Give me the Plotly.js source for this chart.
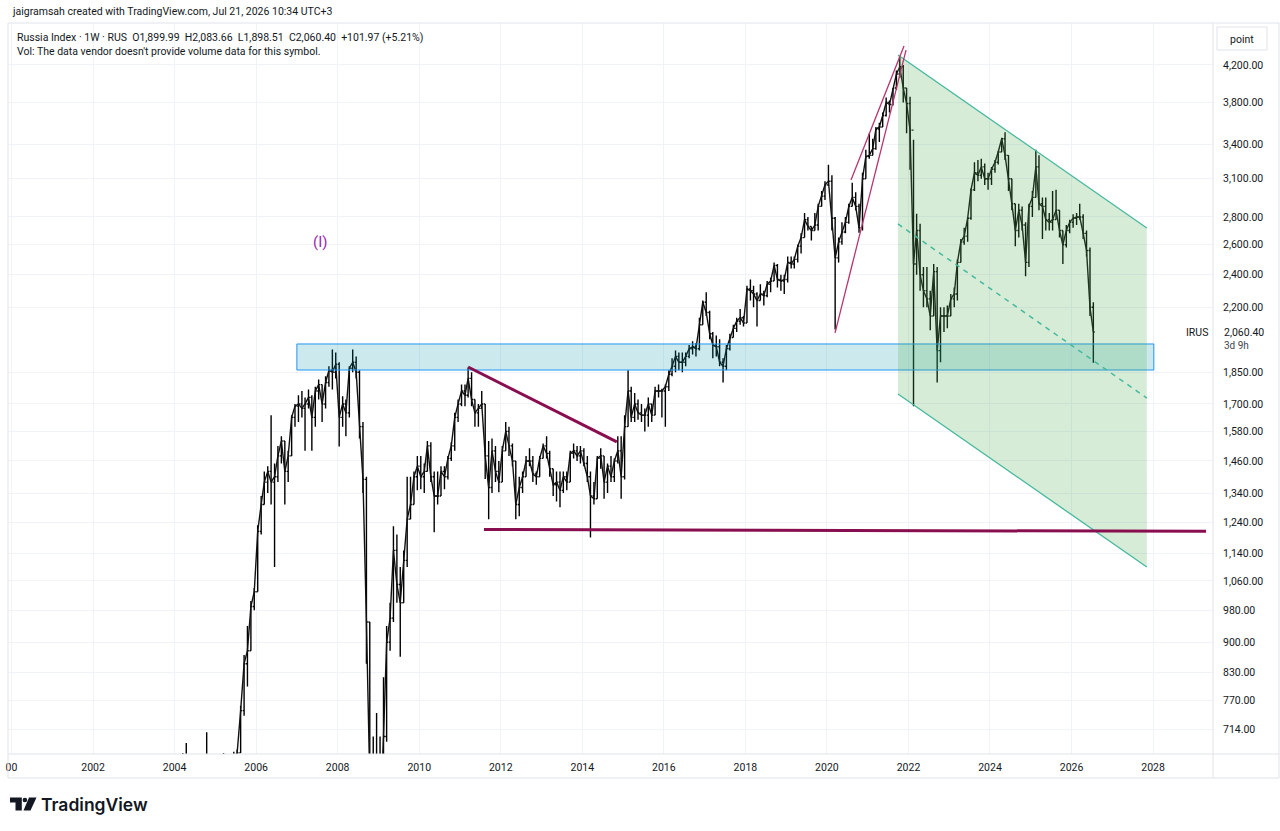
<!DOCTYPE html>
<html>
<head>
<meta charset="utf-8">
<script src="https://cdn.plot.ly/plotly-3.0.1.min.js"></script>
<style>
html,body{margin:0;padding:0;background:#ffffff;}
#chart{width:1280px;height:831px;}
</style>
</head>
<body>
<div id="chart"></div>
<script>
// ---------------- DATA (monthly bars) ----------------
const startYear = 2004;   // first bar: January 2004
const firstOpen = 580;

const highs = [
  640,660,670,688,610,560,560,560,620,708,660,620,            // 2004
  620,660,670,650,640,672,676,760,870,940,1005,1040,          // 2005
  1230,1330,1420,1440,1650,1450,1520,1560,1540,1500,1650,1700,// 2006
  1740,1760,1730,1767,1740,1780,1815,1790,1830,1880,1966,1950,// 2007
  1900,1735,1720,1880,1966,1930,1860,1620,1400,950,700,745,   // 2008
  700,820,940,1000,1227,1200,1100,1150,1400,1400,1420,1480,   // 2009
  1480,1450,1540,1535,1420,1420,1440,1440,1480,1535,1660,1720,// 2010
  1790,1790,1874,1850,1720,1700,1760,1700,1540,1550,1520,1460,// 2011
  1520,1620,1600,1530,1460,1400,1420,1480,1510,1480,1420,1480,// 2012
  1530,1560,1500,1430,1420,1420,1420,1420,1500,1530,1520,1520,// 2013
  1510,1480,1420,1380,1480,1510,1480,1450,1480,1470,1560,1560,// 2014
  1650,1860,1780,1750,1720,1700,1680,1730,1700,1780,1790,1770,// 2015
  1790,1860,1920,1960,1950,1950,1950,1990,2010,2000,2140,2240,// 2016
  2290,2180,2060,2040,2020,1920,1990,2050,2100,2140,2190,2150,// 2017
  2330,2370,2330,2290,2340,2300,2360,2380,2480,2470,2400,2400,// 2018
  2520,2520,2520,2600,2680,2830,2800,2730,2830,2900,3000,3080,// 2019
  3218,3130,2800,2650,2760,2800,2900,3067,2990,2900,3150,3350,// 2020
  3500,3450,3560,3600,3700,3850,3820,3950,4140,4290,4200,3950,// 2021
  3860,3440,2824,2750,2450,2450,2300,2470,2450,2200,2200,2210,// 2022
  2280,2320,2500,2640,2720,2800,3020,3240,3260,3270,3230,3150,// 2023
  3200,3260,3340,3460,3510,3300,3100,2900,2900,2880,2760,2900,// 2024
  3000,3350,3300,2950,2950,2830,3000,3010,2850,2700,2740,2780,// 2025
  2820,2830,2900,2820,2700,2580,2230                          // 2026
];
const lows = [
  570,600,620,590,510,500,480,500,540,590,600,540,
  560,600,620,600,580,610,640,670,740,800,880,980,
  1030,1200,1300,1340,1300,1100,1380,1450,1300,1380,1480,1600,
  1620,1640,1500,1680,1500,1600,1720,1620,1680,1780,1767,1820,
  1518,1600,1560,1640,1850,1820,1550,1340,850,560,520,560,
  520,560,690,880,950,1000,866,1000,1100,1250,1300,1350,
  1354,1340,1420,1380,1207,1300,1330,1354,1390,1460,1500,1620,
  1690,1690,1730,1690,1600,1600,1680,1391,1250,1340,1380,1343,
  1380,1500,1480,1440,1250,1260,1340,1400,1440,1380,1370,1400,
  1470,1470,1400,1330,1310,1290,1340,1350,1380,1470,1460,1450,
  1440,1380,1190,1300,1320,1430,1320,1340,1380,1380,1450,1320,
  1390,1600,1620,1620,1630,1620,1580,1600,1620,1650,1730,1640,
  1600,1760,1830,1850,1860,1850,1880,1920,1940,1930,1960,2100,
  2150,2020,1920,1930,1880,1800,1860,1960,2030,2060,2100,2090,
  2110,2240,2200,2090,2240,2210,2260,2290,2360,2320,2300,2280,
  2350,2440,2440,2480,2540,2650,2700,2630,2700,2700,2880,2930,
  3040,2700,2074,2480,2600,2680,2750,2880,2850,2685,2700,3100,
  3270,3300,3350,3420,3560,3660,3700,3770,3930,4060,3800,3500,
  3175,1690,2400,2300,2200,2200,2070,2150,1800,1900,2060,2080,
  2150,2200,2240,2480,2600,2620,2780,3000,3080,3100,3050,3010,
  3050,3150,3220,3330,3260,3000,2850,2590,2650,2700,2390,2450,
  2800,2950,2850,2640,2700,2700,2700,2780,2650,2470,2580,2680,
  2720,2740,2780,2640,2520,2150,1898
];
const closes = [
  620,640,650,600,540,530,520,550,610,640,620,570,
  600,650,640,620,620,660,670,750,850,880,990,1030,
  1210,1300,1380,1420,1380,1400,1480,1540,1420,1480,1640,1690,
  1700,1680,1700,1730,1640,1760,1790,1700,1800,1860,1850,1890,
  1640,1700,1660,1870,1900,1850,1600,1390,950,620,600,620,
  560,700,900,960,1150,1050,1000,1120,1250,1300,1400,1440,
  1400,1420,1520,1400,1330,1330,1420,1400,1470,1520,1640,1700,
  1760,1740,1820,1720,1660,1680,1700,1480,1360,1500,1420,1380,
  1500,1580,1520,1460,1300,1360,1400,1460,1460,1410,1400,1470,
  1520,1490,1430,1370,1380,1350,1400,1380,1490,1500,1480,1500,
  1450,1400,1330,1320,1470,1480,1380,1440,1400,1460,1500,1400,
  1600,1760,1640,1700,1660,1650,1650,1700,1650,1760,1760,1760,
  1780,1840,1880,1930,1900,1900,1930,1970,1980,1970,2100,2230,
  2170,2050,1990,1980,1900,1880,1970,2030,2080,2120,2140,2110,
  2310,2300,2280,2240,2280,2270,2340,2360,2460,2370,2360,2370,
  2480,2470,2500,2590,2650,2780,2730,2700,2740,2880,2960,3050,
  3080,2790,2510,2620,2690,2760,2880,2950,2880,2720,3100,3290,
  3300,3360,3540,3560,3670,3800,3780,3950,4100,4180,3950,3790,
  3530,2470,2700,2400,2300,2250,2150,2420,1960,2150,2150,2150,
  2250,2280,2480,2620,2660,2790,3010,3150,3130,3200,3100,3100,
  3180,3240,3330,3450,3300,3100,2900,2700,2850,2740,2480,2880,
  2950,3200,2900,2880,2780,2760,2780,2850,2700,2600,2700,2760,
  2790,2800,2800,2680,2560,2200,2060
];

const priceTicks = [4200,3800,3400,3100,2800,2600,2400,2200,1850,1700,1580,1460,1340,1240,1140,1060,980,900,830,770,714];
const yearTicks = [2000,2002,2004,2006,2008,2010,2012,2014,2016,2018,2020,2022,2024,2026,2028];
const yearLabels = ['00','2002','2004','2006','2008','2010','2012','2014','2016','2018','2020','2022','2024','2026','2028'];

const lastPrice = 2060.40;

// Drawings (date, price)
const zoneDates = ['2007-01-01','2028-01-08'];
const zonePrices = [1861, 1995];
const supportDates = ['2011-08-04','2029-04-20'];
const supportPrices = [1216, 1210];
const fallingDates = ['2011-03-15','2014-11-06'];
const fallingPrices = [1876, 1536];
const wedgeLowDates = ['2020-03-14','2021-12-10'];
const wedgeLowPrices = [2055, 4371];
const wedgeHighDates = ['2020-08-04','2021-11-22'];
const wedgeHighPrices = [3090, 4419];
const channelDates = ['2021-09-29','2027-11-06'];
const channelTop = [4313, 2719];
const channelMid = [2748, 1727];
const channelBottom = [1746, 1100];

// ---------------- BUILD ----------------
const dates = closes.map((_, i) => {
  const y = startYear + Math.floor(i / 12);
  const m = (i % 12) + 1;
  return y + '-' + String(m).padStart(2, '0') + '-15';
});
const opens = closes.map((_, i) => i === 0 ? firstOpen : closes[i - 1]);

const fmt = v => v.toLocaleString('en-US', {minimumFractionDigits: 2, maximumFractionDigits: 2});

// pixel -> paper helpers for frame decorations
const L = 8, R = 1213, T = 23, B = 754;
const px = X => (X - L) / (R - L);
const py = Y => (B - Y) / (B - T);

const FONT = 'Roboto, "Liberation Sans", sans-serif';
const TXT = '#131722';

const traces = [
  { // close path, gives the dense ribbon look of the weekly bars
    type: 'scatter', mode: 'lines', x: dates, y: closes,
    line: {color: '#111111', width: 1.4}, hoverinfo: 'skip', showlegend: false
  },
  {
    type: 'ohlc', x: dates, open: opens, high: highs, low: lows, close: closes,
    increasing: {line: {color: '#000000', width: 1.4}},
    decreasing: {line: {color: '#000000', width: 1.4}},
    tickwidth: 0.45, hoverinfo: 'skip', showlegend: false
  },
  { // blue zone
    type: 'scatter', mode: 'lines', hoverinfo: 'skip', showlegend: false,
    x: [zoneDates[0], zoneDates[1], zoneDates[1], zoneDates[0], zoneDates[0]],
    y: [zonePrices[0], zonePrices[0], zonePrices[1], zonePrices[1], zonePrices[0]],
    fill: 'toself', fillcolor: 'rgba(0,151,167,0.2)',
    line: {color: '#2196f3', width: 1}
  },
  { // channel fill
    type: 'scatter', mode: 'lines', hoverinfo: 'skip', showlegend: false,
    x: [channelDates[0], channelDates[1], channelDates[1], channelDates[0], channelDates[0]],
    y: [channelTop[0], channelTop[1], channelBottom[1], channelBottom[0], channelTop[0]],
    fill: 'toself', fillcolor: 'rgba(76,175,80,0.23)',
    line: {width: 0, color: 'rgba(0,0,0,0)'}
  },
  {type: 'scatter', mode: 'lines', hoverinfo: 'skip', showlegend: false,
   x: channelDates, y: channelTop, line: {color: '#45b89d', width: 1.3}},
  {type: 'scatter', mode: 'lines', hoverinfo: 'skip', showlegend: false,
   x: channelDates, y: channelBottom, line: {color: '#45b89d', width: 1.3}},
  {type: 'scatter', mode: 'lines', hoverinfo: 'skip', showlegend: false,
   x: channelDates, y: channelMid, line: {color: '#45b89d', width: 1.5, dash: '5px,5px'}},
  {type: 'scatter', mode: 'lines', hoverinfo: 'skip', showlegend: false,
   x: supportDates, y: supportPrices, line: {color: '#880e4f', width: 3}},
  {type: 'scatter', mode: 'lines', hoverinfo: 'skip', showlegend: false,
   x: fallingDates, y: fallingPrices, line: {color: '#880e4f', width: 3}},
  {type: 'scatter', mode: 'lines', hoverinfo: 'skip', showlegend: false,
   x: wedgeLowDates, y: wedgeLowPrices, line: {color: '#b8346e', width: 1.3}},
  {type: 'scatter', mode: 'lines', hoverinfo: 'skip', showlegend: false,
   x: wedgeHighDates, y: wedgeHighPrices, line: {color: '#b8346e', width: 1.3}}
];

const border = '#e0e3eb';
const shapes = [
  {type: 'rect', xref: 'paper', yref: 'paper', x0: px(8), x1: px(1279), y0: py(778), y1: py(23),
   line: {color: border, width: 1}, fillcolor: 'rgba(0,0,0,0)', layer: 'above'},
  {type: 'line', xref: 'paper', yref: 'paper', x0: px(8), x1: px(1279), y0: py(754), y1: py(754),
   line: {color: border, width: 1}},
  {type: 'line', xref: 'paper', yref: 'paper', x0: px(1213), x1: px(1213), y0: py(778), y1: py(23),
   line: {color: border, width: 1}},
  // "point" box
  {type: 'rect', xref: 'paper', yref: 'paper', x0: px(1217), x1: px(1267), y0: py(50), y1: py(27),
   line: {color: border, width: 1}, fillcolor: '#ffffff'},
  // TradingView logo
  {type: 'path', xref: 'paper', yref: 'paper', fillcolor: TXT, line: {width: 0},
   path: 'M' + px(10) + ',' + py(797.5) + ' L' + px(21.8) + ',' + py(797.5) + ' L' + px(21.8) + ',' + py(810.5) +
         ' L' + px(15.5) + ',' + py(810.5) + ' L' + px(15.5) + ',' + py(802.5) + ' L' + px(10) + ',' + py(802.5) + ' Z'},
  {type: 'circle', xref: 'paper', yref: 'paper', fillcolor: TXT, line: {width: 0},
   x0: px(22.6), x1: px(27.2), y0: py(802.3), y1: py(797.7)},
  {type: 'path', xref: 'paper', yref: 'paper', fillcolor: TXT, line: {width: 0},
   path: 'M' + px(29) + ',' + py(797.5) + ' L' + px(36.5) + ',' + py(797.5) + ' L' + px(30.5) + ',' + py(810.5) +
         ' L' + px(23.5) + ',' + py(810.5) + ' Z'}
];

const ann = (X, Y, text, opts) => Object.assign({
  xref: 'paper', yref: 'paper', x: px(X), y: py(Y), text: text, showarrow: false,
  xanchor: 'left', yanchor: 'middle', font: {family: FONT, size: 10.5, color: TXT}
}, opts || {});

const annotations = [
  ann(10, 12, 'jaigramsah created with TradingView.com, Jul 21, 2026 10:34 UTC+3'),
  ann(15, 37, 'Russia Index · 1W · RUS  O1,899.99  H2,083.66  L1,898.51  C2,060.40  +101.97 (+5.21%)'),
  ann(15, 52, 'Vol: The data vendor doesn\'t provide volume data for this symbol.'),
  ann(320, 242, '(I)', {xanchor: 'center', font: {family: FONT, size: 15, color: '#9c27b0'}}),
  ann(1210, 332, 'IRUS', {xanchor: 'right'}),
  ann(1222, 332, fmt(lastPrice)),
  ann(1222, 345, '3d 9h', {font: {family: FONT, size: 10, color: '#434651'}}),
  ann(1242, 39, 'point', {xanchor: 'center'}),
  ann(39, 804, 'TradingView', {font: {family: 'Inter, Roboto, sans-serif', size: 17.5, color: TXT, weight: 600}})
];

const layout = {
  width: 1280, height: 831,
  margin: {l: L, r: 1280 - R, t: T, b: 831 - B, pad: 0},
  paper_bgcolor: '#ffffff', plot_bgcolor: '#ffffff',
  showlegend: false,
  font: {family: FONT, size: 10.5, color: TXT},
  xaxis: {
    type: 'date', range: ['1999-12-01', '2029-06-21'],
    rangeslider: {visible: false},
    tickmode: 'array',
    tickvals: yearTicks.map(y => y + '-01-01'),
    ticktext: yearLabels,
    showgrid: true, gridcolor: '#f0f3fa', gridwidth: 1,
    zeroline: false, showline: false, ticks: '',
    ticklabelstandoff: 5,
    tickfont: {family: FONT, size: 10.5, color: TXT},
    fixedrange: true
  },
  yaxis: {
    type: 'log', side: 'right',
    range: [Math.log10(668), Math.log10(4698)],
    tickmode: 'array', tickvals: priceTicks, ticktext: priceTicks.map(fmt),
    showgrid: true, gridcolor: '#f0f3fa', gridwidth: 1,
    zeroline: false, showline: false, ticks: '',
    ticklabelstandoff: 9,
    tickfont: {family: FONT, size: 10.5, color: TXT},
    fixedrange: true
  },
  shapes: shapes,
  annotations: annotations
};

Plotly.newPlot('chart', traces, layout, {displayModeBar: false, staticPlot: true});
</script>
</body>
</html>
